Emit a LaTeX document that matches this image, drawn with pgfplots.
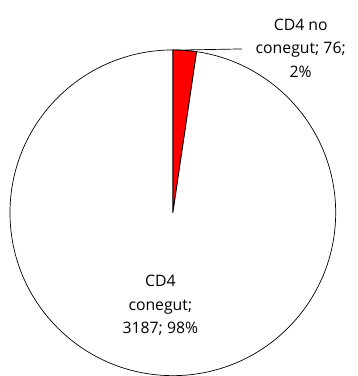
\documentclass[border=0pt]{standalone}
\usepackage{fontspec}
\setmainfont{Open Sans}
\usepackage{pgfplots}
\pgfplotsset{compat=1.18}

% slice values
\def\valA{76}    % CD4 no conegut
\def\valB{3187}  % CD4 conegut

\begin{document}
\begin{tikzpicture}[
  lbl/.style={font=\fontsize{15.8}{23.5}\selectfont, align=center, text=black, inner sep=0pt},
]
\begin{axis}[
  x=1pt, y=1pt, scale only axis,
  xmin=0, xmax=358, ymin=0, ymax=376,
  hide axis, clip=false,
]
\pgfmathsetmacro{\angA}{360*(\valA/(\valA+\valB))}
\pgfmathsetmacro{\endA}{90-\angA}
% keep the full canvas
\path (axis cs:0,0) rectangle (axis cs:358,376);
% whole pie
\draw[black, line width=0.7pt, fill=white] (axis cs:173,163) circle[radius=163];
% red slice
\draw[black, line width=0.9pt, fill=red, line join=round]
  (axis cs:173,163) -- (axis cs:173,326) arc[start angle=90, end angle=\endA, radius=163] -- cycle;
% leader line
\draw[black, line width=0.7pt] (axis cs:185,326) -- (axis cs:242,327);
\node[lbl] at (axis cs:301,328) {CD4 no\\conegut; 76;\\2\%};
\node[lbl] at (axis cs:160.5,70) {CD4\\conegut;\\3187; 98\%};
\end{axis}
\end{tikzpicture}
\end{document}
